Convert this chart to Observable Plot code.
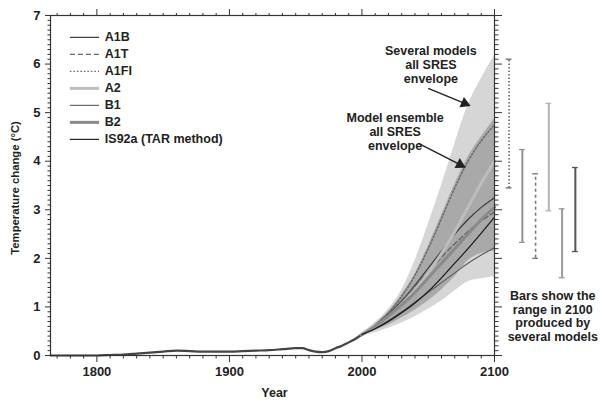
<!DOCTYPE html>
<html>
<head>
<meta charset="utf-8">
<script src="https://cdn.jsdelivr.net/npm/d3@7"></script>
<script src="https://cdn.jsdelivr.net/npm/@observablehq/plot@0.6"></script>
<style>
  html, body { margin: 0; padding: 0; background: #fff; }
  #chart svg { display: block; }
</style>
</head>
<body>
<div id="chart"></div>
<script>
// Global mean temperature change since pre-industrial, with SRES projections to 2100.

// Observed / simulated past (shared by all scenarios)
const histYears = [1765, 1780, 1800, 1810, 1820, 1830, 1840, 1850, 1860, 1870, 1880, 1890, 1900,
  1910, 1920, 1930, 1940, 1950, 1955, 1960, 1965, 1970, 1975, 1980, 1985, 1990, 1995, 2000];
const histTemp = [0, 0, 0, 0.01, 0.02, 0.04, 0.06, 0.08, 0.10, 0.09, 0.08, 0.08, 0.08,
  0.09, 0.10, 0.11, 0.13, 0.15, 0.15, 0.11, 0.08, 0.07, 0.09, 0.15, 0.20, 0.27, 0.34, 0.43];

// Envelopes
const envYears = [1990, 2000, 2010, 2020, 2030, 2040, 2050, 2060, 2070, 2080, 2090, 2100];
const severalTop = [0.27, 0.47, 0.68, 0.95, 1.35, 1.95, 2.70, 3.50, 4.35, 5.15, 5.70, 6.17];
const severalBottom = [0.27, 0.39, 0.47, 0.56, 0.67, 0.80, 0.95, 1.12, 1.33, 1.52, 1.58, 1.62];
const ensembleTop = [0.27, 0.45, 0.64, 0.90, 1.25, 1.68, 2.25, 2.88, 3.52, 4.08, 4.50, 4.87];
const ensembleBottom = [0.27, 0.42, 0.52, 0.63, 0.77, 0.93, 1.12, 1.35, 1.62, 1.95, 2.10, 2.15];

// Scenario ensemble means
const projYears = [2000, 2010, 2020, 2030, 2040, 2050, 2060, 2070, 2080, 2090, 2100];
const scenarioNames = ["A1B", "A1T", "A1FI", "A2", "B1", "B2", "IS92a (TAR method)"];
const scenarioA1B = [0.43, 0.62, 0.86, 1.13, 1.45, 1.80, 2.15, 2.50, 2.80, 3.05, 3.25];
const scenarioA1T = [0.43, 0.63, 0.87, 1.13, 1.42, 1.72, 2.02, 2.30, 2.55, 2.77, 2.95];
const scenarioA1FI = [0.43, 0.62, 0.88, 1.22, 1.65, 2.20, 2.82, 3.45, 4.00, 4.42, 4.75];
const scenarioA2 = [0.43, 0.60, 0.80, 1.05, 1.35, 1.70, 2.10, 2.55, 3.05, 3.55, 4.00];
const scenarioB1 = [0.43, 0.56, 0.72, 0.90, 1.10, 1.30, 1.50, 1.70, 1.90, 2.07, 2.22];
const scenarioB2 = [0.43, 0.60, 0.81, 1.04, 1.30, 1.60, 1.90, 2.20, 2.50, 2.80, 3.05];
const scenarioIS92a = [0.43, 0.55, 0.70, 0.88, 1.08, 1.32, 1.60, 1.90, 2.20, 2.52, 2.85];

// Range in 2100 across several models
const rangeNames = ["A1FI", "A1B", "A1T", "A2", "B1", "B2"];
const rangeLow = [3.45, 2.33, 2.00, 2.98, 1.60, 2.14];
const rangeHigh = [6.10, 4.24, 3.74, 5.19, 3.02, 3.87];

// Tick values
const majorYears = [1800, 1900, 2000, 2100];
const majorTemps = [0, 1, 2, 3, 4, 5, 6, 7];

// Line style per scenario
const styles = {
  "A1B": {stroke: "#3a3a3a", strokeWidth: 1.2},
  "A1T": {stroke: "#666", strokeWidth: 1.4, strokeDasharray: "5,3"},
  "A1FI": {stroke: "#666", strokeWidth: 1.4, strokeDasharray: "1.5,2"},
  "A2": {stroke: "#bdbdbd", strokeWidth: 3},
  "B1": {stroke: "#5a5a5a", strokeWidth: 1.1},
  "B2": {stroke: "#8a8a8a", strokeWidth: 3},
  "IS92a (TAR method)": {stroke: "#111", strokeWidth: 1.1}
};
const barStyles = {
  "A1FI": {stroke: "#666", strokeWidth: 1.6, strokeDasharray: "1.5,2"},
  "A1B": {stroke: "#929292", strokeWidth: 2},
  "A1T": {stroke: "#777", strokeWidth: 1.6, strokeDasharray: "3,3"},
  "A2": {stroke: "#b3b3b3", strokeWidth: 2},
  "B1": {stroke: "#9a9a9a", strokeWidth: 2},
  "B2": {stroke: "#555", strokeWidth: 2}
};

// Callout arrows: shaft start, shaft end, head direction (degrees, screen space)
const callouts = [
  {x1: 2050, y1: 5.50, x2: 2077.5, y2: 5.19, angle: 113.6},
  {x1: 2043, y1: 4.36, x2: 2074, y2: 3.93, angle: 117.6}
];

const scenarioValues = [scenarioA1B, scenarioA1T, scenarioA1FI, scenarioA2, scenarioB1, scenarioB2, scenarioIS92a];
const hist = histYears.map((year, i) => ({year, t: histTemp[i]}));
const env = envYears.map((year, i) => ({
  year, sTop: severalTop[i], sBot: severalBottom[i], eTop: ensembleTop[i], eBot: ensembleBottom[i]
}));
const scenarios = scenarioNames.map((name, k) =>
  projYears.map((year, i) => ({name, year, t: scenarioValues[k][i]})));

// bars sit to the right of 2100, one decade apart
const bars = rangeNames.map((name, i) => ({name, x: 2111 + i * 10, lo: rangeLow[i], hi: rangeHigh[i]}));

// legend rows in the upper-left corner
const legendRows = scenarioNames.map((name, i) => ({name, y: 6.55 - i * 0.35}));

const font = "'Liberation Sans', Arial, Helvetica, sans-serif";
const minorYears = d3.range(1770, 2101, 10).filter(y => y % 100 !== 0);
const minorTemps = d3.range(0, 70.5, 1).map(v => v / 10).filter(v => !Number.isInteger(v));
const noText = () => "";
const ink = "#222";

const marks = [
  Plot.areaY(env, {x: "year", y1: "sBot", y2: "sTop", fill: "#d6d6d6", curve: "monotone-x"}),
  Plot.areaY(env, {x: "year", y1: "eBot", y2: "eTop", fill: "#a9a9a9", curve: "monotone-x"}),
  Plot.line(hist, {x: "year", y: "t", stroke: "#444", strokeWidth: 2.2, curve: "monotone-x"}),
  ...scenarios.map(data => Plot.line(data, {x: "year", y: "t", curve: "monotone-x", ...styles[data[0].name]})),

  // legend
  ...legendRows.map(r => Plot.ruleY([r], {y: "y", x1: 1780, x2: 1802, ...styles[r.name]})),
  Plot.text(legendRows, {x: 1806, y: "y", text: "name", textAnchor: "start", fontSize: 12.5, fontWeight: "bold", fill: ink}),

  // annotations
  Plot.text(["Several models\nall SRES\nenvelope"], {x: 2052, y: 6.0, fontSize: 12.5, fontWeight: "bold", lineHeight: 1.12, fill: ink}),
  Plot.text(["Model ensemble\nall SRES\nenvelope"], {x: 2025, y: 4.61, fontSize: 12.5, fontWeight: "bold", lineHeight: 1.12, fill: ink}),
  Plot.link(callouts, {x1: "x1", y1: "y1", x2: "x2", y2: "y2", stroke: ink, strokeWidth: 1.4}),
  Plot.dot(callouts, {x: "x2", y: "y2", symbol: "triangle", r: 4.2, rotate: "angle", fill: ink, stroke: "none"}),

  // 2100 ranges
  ...bars.map(b => Plot.ruleX([b], {x: "x", y1: "lo", y2: "hi", ...barStyles[b.name]})),
  ...bars.map(b => Plot.ruleY([b.lo, b.hi], {y: d => d, x1: b.x - 2.2, x2: b.x + 2.2, stroke: barStyles[b.name].stroke, strokeWidth: 1.3})),
  Plot.text(["Bars show the\nrange in 2100\nproduced by\nseveral models"], {x: 2144, y: 0.81, fontSize: 12.5, fontWeight: "bold", lineHeight: 1.08, fill: ink}),

  // frame and axes
  Plot.frame({stroke: "#333", strokeWidth: 1.2}),
  Plot.axisX(majorYears, {anchor: "bottom", tickSize: 7, tickPadding: 4, fontSize: 13, fontWeight: "bold", tickFormat: d => String(d), label: null, stroke: "#333", fill: ink}),
  Plot.axisX(minorYears, {anchor: "bottom", tickSize: 3.5, tickFormat: noText, label: null, stroke: "#333"}),
  Plot.axisX(majorYears, {anchor: "top", tickSize: 7, tickFormat: noText, label: null, stroke: "#333"}),
  Plot.axisX(minorYears, {anchor: "top", tickSize: 3, tickFormat: noText, label: null, stroke: "#333"}),
  Plot.axisY(majorTemps, {anchor: "left", tickSize: 5, tickPadding: 5, fontSize: 13, fontWeight: "bold", tickFormat: d => String(d), label: null, stroke: "#333", fill: ink}),
  Plot.axisY(minorTemps, {anchor: "left", tickSize: 2.5, tickFormat: noText, label: null, stroke: "#333"}),
  Plot.axisY(majorTemps, {anchor: "right", tickSize: 7, tickFormat: noText, label: null, stroke: "#333"}),
  Plot.axisY(minorTemps, {anchor: "right", tickSize: 3.5, tickFormat: noText, label: null, stroke: "#333"}),
  Plot.text(["Year"], {x: 1934, y: 0, dy: 37, fontSize: 12.5, fontWeight: "bold", fill: ink}),
  Plot.text(["Temperature change (°C)"], {x: 1765, y: 3.45, dx: -35, rotate: -90, fontSize: 11.3, fontWeight: "bold", fill: ink})
];

const chart = Plot.plot({
  width: 600,
  height: 402,
  marginLeft: 50,
  marginRight: 106,
  marginTop: 15,
  marginBottom: 47,
  x: {domain: [1765, 2100]},
  y: {domain: [0, 7]},
  style: {fontFamily: font, fontSize: "13px", color: ink, background: "#fff", overflow: "visible"},
  marks
});

document.getElementById("chart").appendChild(chart);
</script>
</body>
</html>
